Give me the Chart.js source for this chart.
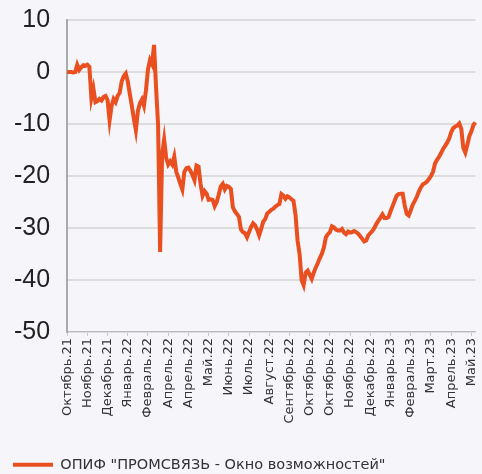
<!DOCTYPE html>
<html>
<head>
<meta charset="utf-8">
<script src="https://cdn.jsdelivr.net/npm/chart.js@4.4.1/dist/chart.umd.min.js"></script>
<style>
  html, body { margin: 0; padding: 0; background: #f5f5fa; overflow: hidden; }
  #wrap { width: 489px; height: 474px; }
</style>
</head>
<body>
<div id="wrap"><canvas id="myChart"></canvas></div>
<script>
const seriesName = 'ОПИФ "ПРОМСВЯЗЬ - Окно возможностей"';

// подписи оси X (каждая 10-я точка)
const tickLabels = [
  'Октябрь.21', 'Ноябрь.21', 'Декабрь.21', 'Январь.22', 'Февраль.22',
  'Апрель.22', 'Апрель.22', 'Май.22', 'Июнь.22', 'Июль.22', 'Август.22',
  'Сентябрь.22', 'Октябрь.22', 'Октябрь.22', 'Ноябрь.22', 'Декабрь.22',
  'Январь.23', 'Февраль.23', 'Март.23', 'Апрель.23', 'Май.23'
];

// доходность, %
const values = [
  0, 0, 0, -0.1, 0, 1.4, 0.4, 0.9, 1.3, 1.2,
  1.4, 1.0, -5, -3.2, -5.8, -5.6, -5.2, -5.5, -4.8, -4.6,
  -5.4, -9.3, -6.5, -5.2, -5.8, -4.6, -4.0, -1.8, -0.8, -0.3,
  -1.8, -4.2, -6.5, -9, -11.2, -7.5, -6, -5.3, -6.5, -3.5,
  0.5, 2.3, 1.5, 5.2, -3, -10.2, -34.6, -15.8, -13, -16.5,
  -17.8, -17.2, -17.8, -16.3, -19.2, -20.3, -21.5, -22.6, -19.2, -18.5,
  -18.4, -19, -19.8, -20.8, -18, -18.2, -21.5, -23.8, -22.9, -23.4,
  -24.6, -24.5, -24.6, -25.8, -25, -23.6, -22, -21.5, -22.6, -21.9,
  -22.1, -22.5, -26, -26.8, -27.3, -27.9, -30.3, -30.8, -31, -31.8,
  -30.8, -29.8, -29.1, -29.5, -30.3, -31.4, -30.2, -28.8, -28.3, -27.2,
  -26.9, -26.5, -26.3, -25.9, -25.6, -25.4, -23.5, -23.8, -24.4, -23.9,
  -24.1, -24.5, -24.8, -27.5, -32.4, -35, -40, -41, -38.6, -38.2,
  -39, -39.8, -38.6, -37.6, -36.8, -35.8, -35, -33.8, -31.8, -31.2,
  -30.8, -29.7, -29.9, -30.3, -30.5, -30.5, -30.2, -30.9, -31.2, -30.7,
  -30.9, -30.8, -30.6, -30.8, -31.1, -31.6, -32.1, -32.6, -32.4, -31.4,
  -31, -30.6, -30, -29.2, -28.6, -28, -27.4, -28.1, -28.1, -27.9,
  -26.8, -25.8, -24.8, -23.8, -23.5, -23.4, -23.4, -25.6, -27.3, -27.6,
  -26.6, -25.5, -24.8, -24, -23, -22.2, -21.6, -21.4, -21.1, -20.6,
  -20, -19.2, -17.6, -16.9, -16.3, -15.6, -14.8, -14.2, -13.6, -12.8,
  -11.6, -10.8, -10.5, -10.3, -9.9, -10.9, -14.6, -15.5, -14, -12.3,
  -11.4, -10.2, -9.7
];

const yTicks = [10, 0, -10, -20, -30, -40, -50];
const tickEvery = 10;

const bgPlugin = {
  id: 'bg',
  afterLayout(chart) {
    // сдвиг легенды вправо, как в оригинале
    chart.legend.left += 13;
  },
  beforeDraw(chart) {
    const c = chart.ctx;
    c.save();
    c.fillStyle = '#f5f5fa';
    c.fillRect(0, 0, chart.width, chart.height);
    c.restore();
  }
};

const ctx = document.getElementById('myChart');

new Chart(ctx, {
  type: 'line',
  data: {
    labels: values.map((v, i) => i),
    datasets: [{
      label: seriesName,
      data: values,
      borderColor: '#e94f1f',
      backgroundColor: '#e94f1f',
      borderWidth: 4,
      pointRadius: 0,
      tension: 0
    }]
  },
  options: {
    responsive: true,
    maintainAspectRatio: false,
    animation: false,
    layout: { padding: { left: -3, top: 0, right: 0, bottom: -8 } },
    plugins: {
      legend: {
        position: 'bottom',
        align: 'start',
        labels: {
          usePointStyle: true,
          pointStyle: 'line',
          pointStyleWidth: 40,
          boxHeight: 4,
          padding: 3,
          color: '#333',
          font: { family: 'DejaVu Sans', size: 14.5 }
        }
      },
      tooltip: { enabled: false }
    },
    scales: {
      x: {
        type: 'category',
        offset: false,
        grid: { display: true, drawOnChartArea: false, drawTicks: true, tickLength: 4, color: '#c8c8c8' },
        border: { display: true, color: '#bbb', width: 1 },
        afterBuildTicks: axis => {
          axis.ticks = axis.ticks.filter(t => t.value % tickEvery === 0);
        },
        afterFit: scale => { scale.height += 29; },
        ticks: {
          autoSkip: false,
          maxRotation: 90,
          minRotation: 90,
          padding: 2,
          color: '#333',
          font: { family: 'DejaVu Sans', size: 13 },
          callback: (val) => tickLabels[val / tickEvery]
        }
      },
      y: {
        min: Math.min(...yTicks),
        max: Math.max(...yTicks),
        afterBuildTicks: axis => {
          axis.ticks = yTicks.map(v => ({ value: v }));
        },
        afterFit: scale => { scale.paddingTop = 20; scale.paddingBottom = 0; },
        grid: { color: '#dcdcdc', lineWidth: 2, drawTicks: false },
        border: { display: true, color: '#aaa', width: 2 },
        ticks: {
          padding: 17,
          color: '#222',
          font: { family: 'Liberation Sans', size: 25 }
        }
      }
    }
  },
  plugins: [bgPlugin]
});
</script>
</body>
</html>
